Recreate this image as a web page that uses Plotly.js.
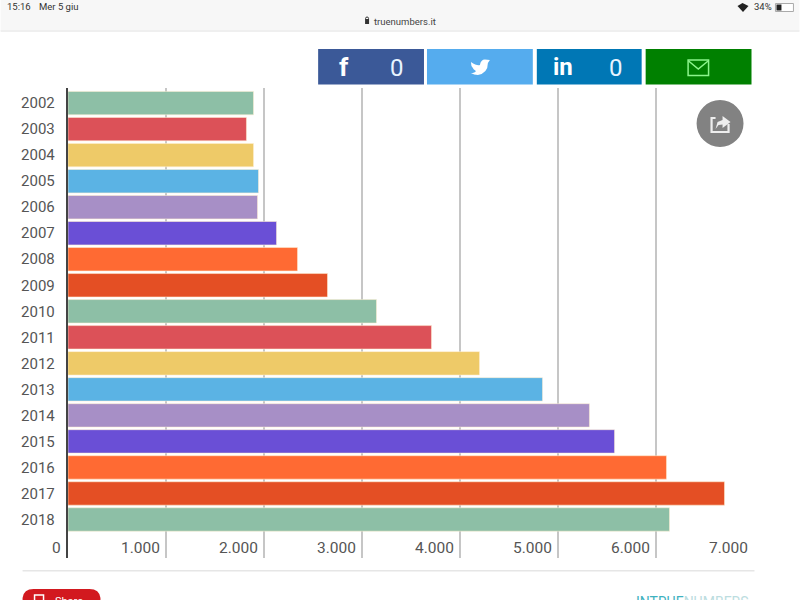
<!DOCTYPE html>
<html><head><meta charset="utf-8">
<script src="https://cdn.plot.ly/plotly-3.0.0.min.js"></script>
<style>html,body{margin:0;padding:0;background:#fff;overflow:hidden}#c{width:800px;height:600px}</style>
</head><body><div id="c"></div>
<script>
const years = ['2002','2003','2004','2005','2006','2007','2008','2009','2010','2011','2012','2013','2014','2015','2016','2017','2018'];
const values = [1893,1821,1893,1944,1934,2128,2342,2648,3148,3709,4199,4842,5321,5577,6107,6699,6138];
const barColors = ['#8dbfa6','#dc5158','#eeca68','#5bb3e4','#a78fc6','#6a4fd6','#ff6a33','#e44f24','#8dbfa6','#dc5158','#eeca68','#5bb3e4','#a78fc6','#6a4fd6','#ff6a33','#e44f24','#8dbfa6'];
const xTickVals = [1000,2000,3000,4000,5000,6000,7000];
const xTickLabels = ['1.000','2.000','3.000','4.000','5.000','6.000','7.000'];
const shareButtons = [
  {x0:318,x1:424,color:'#3b5998',icon:'f',count:'0'},
  {x0:427,x1:533,color:'#55acee',icon:'',count:''},
  {x0:537,x1:642,color:'#0077b5',icon:'in',count:'0'},
  {x0:646,x1:752,color:'#008000',icon:'',count:''}
];

const L=67.5,R=754.5,T=88,B=558;
const X=p=>(p-L)/(R-L), Y=p=>(B-p)/(B-T);
const pth=(pts,close)=>pts.map((q,i)=>(i?'L':'M')+X(q[0])+','+Y(q[1])).join(' ')+(close?' Z':'');
const pShape=(path,o)=>Object.assign({type:'path',xref:'paper',yref:'paper',path:path,layer:'above',line:{width:0}},o);
const box=(x0,y0,x1,y1,fill,extra)=>Object.assign({type:'rect',xref:'paper',yref:'paper',x0:X(x0),x1:X(x1),y0:Y(y0),y1:Y(y1),fillcolor:fill,line:{width:0},layer:'above'},extra||{});
const txt=(x,y,text,size,color,anchor,extra)=>Object.assign({xref:'paper',yref:'paper',x:X(x),y:Y(y),text:text,showarrow:false,xanchor:anchor||'left',yanchor:'middle',font:{family:'Roboto, sans-serif',size:size,color:color}},extra||{});

const shapes=[], annotations=[];
// browser bar
shapes.push(box(0,0,800,31,'#f7f7f7'));
shapes.push(box(0,30,800,32,'#efefef'));
annotations.push(txt(4,7,'15:16',9.5,'#333'));
annotations.push(txt(36,7,'Mer 5 giu',9.5,'#333'));
annotations.push(txt(372,21,'truenumbers.it',9.5,'#444'));
shapes.push(box(365,19,369,24,'#333'));
shapes.push({type:'circle',xref:'paper',yref:'paper',x0:X(365.5),x1:X(368.5),y0:Y(20),y1:Y(17),line:{color:'#333',width:1},layer:'above'});
// wifi + battery
shapes.push(pShape(pth([[738,6],[743,3],[749,6],[743.5,12]],true),{fillcolor:'#222'}));
annotations.push(txt(752,7,'34%',9.5,'#333'));
shapes.push(box(776,3.5,794,11.5,'#fff',{line:{color:'#aaa',width:1}}));
shapes.push(box(777,4.5,782,10.5,'#222'));
// share buttons
shareButtons.forEach(b=>{
  shapes.push(box(b.x0,49,b.x1,84.5,b.color));
  if(b.icon) annotations.push(txt(b.x0+(b.icon==='f'?26:26),67,b.icon,b.icon==='f'?26:24,'#fff','center',{font:{family:'Roboto, sans-serif',size:b.icon==='f'?26:24,color:'#fff',weight:700}}));
  if(b.count) annotations.push(txt(b.x0+79,68,b.count,24,'#e8f4ff','center',{font:{family:'"Liberation Sans Narrow", Roboto, sans-serif',size:24,color:'#e8f4ff'}}));
});
// twitter bird
shapes.push(pShape('M'+X(471)+','+Y(62)+' Q'+X(477)+','+Y(66)+' '+X(480)+','+Y(65)+' Q'+X(481)+','+Y(59.5)+' '+X(485)+','+Y(59.5)+' L'+X(490)+','+Y(60)+' L'+X(488)+','+Y(63)+' Q'+X(488)+','+Y(73)+' '+X(478)+','+Y(75)+' Q'+X(474)+','+Y(75)+' '+X(471)+','+Y(73)+' Q'+X(475)+','+Y(73)+' '+X(476)+','+Y(71)+' Q'+X(473)+','+Y(69)+' '+X(473)+','+Y(68)+' Q'+X(471)+','+Y(66)+' '+X(471)+','+Y(62)+' Z',{fillcolor:'#fff'}));
// envelope
shapes.push(box(688.5,60,709,75.5,'rgba(0,0,0,0)',{line:{color:'#8cf58c',width:1.5}}));
shapes.push(pShape(pth([[689,61],[698.7,69],[708.5,61]]),{line:{color:'#8cf58c',width:1.5}}));
// round share button
shapes.push({type:'circle',xref:'paper',yref:'paper',x0:X(697),x1:X(744),y0:Y(147),y1:Y(100),fillcolor:'#828282',line:{width:0},layer:'above'});
shapes.push(pShape(pth([[716,118],[712,118],[712,132],[729,132],[729,124]]),{line:{color:'#eee',width:2.2}}));
shapes.push(pShape(pth([[716,129],[718,122],[723,120],[723,116],[731,122],[723,128],[723,124.5],[719,125]],true),{fillcolor:'#eee'}));
// footer
shapes.push(box(22,570,755,571.5,'#e6e6e6'));
shapes.push(pShape('M'+X(22)+','+Y(610)+' L'+X(22)+','+Y(598)+' Q'+X(23)+','+Y(589)+' '+X(33)+','+Y(589)+' L'+X(89)+','+Y(589)+' Q'+X(99)+','+Y(589)+' '+X(100)+','+Y(598)+' L'+X(100)+','+Y(610)+' Z',{fillcolor:'#d2191f'}));
shapes.push(box(34,595,43,604,'rgba(0,0,0,0)',{line:{color:'#fff',width:1.5}}));
annotations.push(txt(52,601,'Share',11,'#fff'));
annotations.push(txt(634,602,'INTRUE<span style="color:#bcdde0">NUMBERS</span>',14,'#3fb2bf'));

// axis tick labels
xTickVals.forEach((v,i)=>annotations.push({xref:'x',yref:'paper',x:v,y:Y(548),text:xTickLabels[i],showarrow:false,xanchor:'right',yanchor:'middle',xshift:-4,font:{family:'Roboto, sans-serif',size:15.5,color:'#555'}}));
annotations.push({xref:'x',yref:'paper',x:0,y:Y(548),text:'0',showarrow:false,xanchor:'right',yanchor:'middle',xshift:-5,font:{family:'Roboto, sans-serif',size:15.5,color:'#555'}});

Plotly.newPlot('c',[{
  type:'bar',orientation:'h',y:years,x:values,width:0.9,
  marker:{color:barColors,line:{color:'rgba(255,238,210,0.55)',width:1}},
  hoverinfo:'x+y'
}],{
  width:800,height:600,showlegend:false,
  paper_bgcolor:'#fff',plot_bgcolor:'#fff',
  margin:{l:L,r:800-R,t:T,b:600-B,pad:0,autoexpand:false},
  bargap:0.1,
  xaxis:{range:[0,7000],tickvals:xTickVals,showticklabels:false,showgrid:true,gridcolor:'#c6c6c6',gridwidth:1.3,zeroline:false,ticks:'',fixedrange:true},
  yaxis:{type:'category',range:[17.48,-0.58],tickmode:'array',tickvals:years,ticktext:years,ticks:'',ticklen:0,ticklabelstandoff:8,
         tickfont:{family:'Roboto, sans-serif',size:15,color:'#555'},showline:true,linecolor:'#444',linewidth:2.2,layer:'above traces',showgrid:false,zeroline:false,fixedrange:true},
  shapes:shapes,annotations:annotations
},{displayModeBar:false,staticPlot:true});
</script></body></html>
